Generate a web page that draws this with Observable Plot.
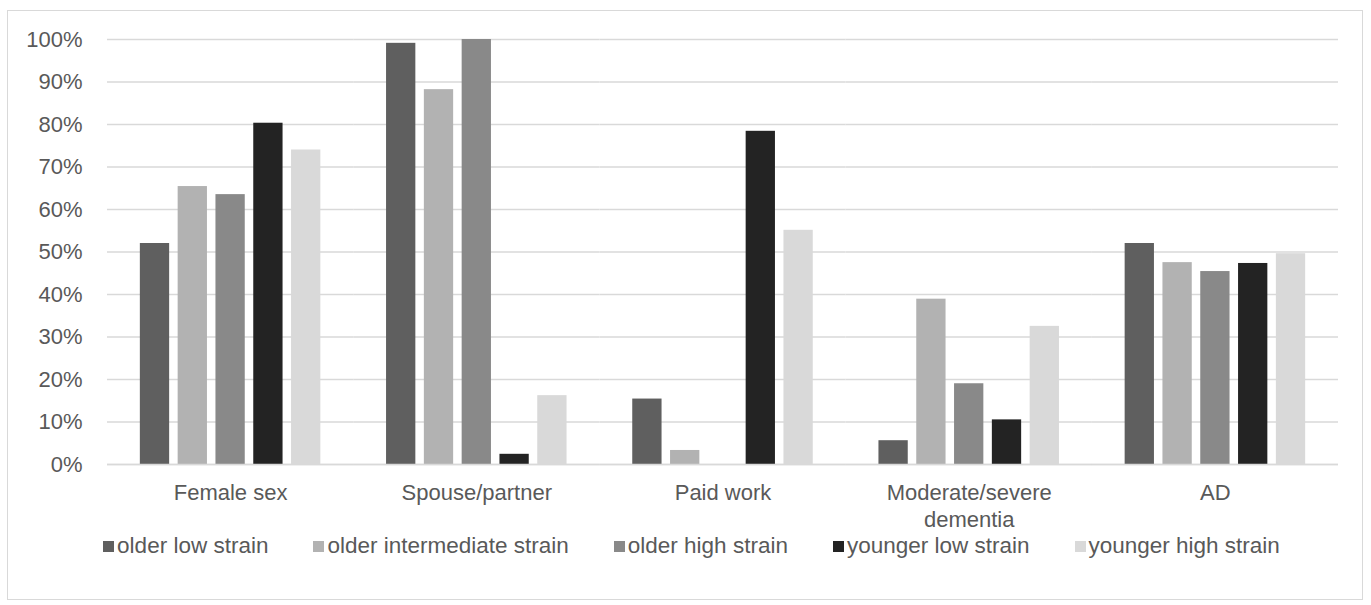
<!DOCTYPE html>
<html>
<head>
<meta charset="utf-8">
<script src="https://cdn.jsdelivr.net/npm/d3@7"></script>
<script src="https://cdn.jsdelivr.net/npm/@observablehq/plot@0.6"></script>
<style>
  html, body { margin: 0; padding: 0; background: #fff; }
  body { width: 1371px; height: 605px; position: relative; overflow: hidden;
         font-family: "Liberation Sans", Arial, sans-serif; color: #595959; }
  #frame { position: absolute; left: 7px; top: 10px; width: 1356px; height: 590px;
           border: 1.5px solid #d9d9d9; box-sizing: border-box; }
  #chart { position: absolute; left: 0; top: 0; }
  #legend { position: absolute; left: 6px; top: 535px; width: 1371px; display: flex;
            justify-content: center; gap: 45px; font-size: 22.5px; line-height: 22px; }
  #legend .item { display: flex; align-items: center; white-space: nowrap; }
  #legend .sw { width: 11px; height: 11px; margin-right: 3px; display: inline-block; }
</style>
</head>
<body>
<div id="frame"></div>
<div id="chart"></div>
<div id="legend"></div>
<script>
// Characteristics of caregivers by age group and strain level (share, 0–100%)
const categories = ["Female sex", "Spouse/partner", "Paid work", "Moderate/severe dementia", "AD"];
const series = ["older low strain", "older intermediate strain", "older high strain", "younger low strain", "younger high strain"];
const colors = ["#5f5f5f", "#b2b2b2", "#898989", "#232323", "#d9d9d9"];

const olderLow          = [52.0, 99.1, 15.4,  5.6, 52.0];
const olderIntermediate = [65.4, 88.2,  3.3, 38.9, 47.5];
const olderHigh         = [63.5, 100.0, 0.0, 19.0, 45.4];
const youngerLow        = [80.3,  2.4, 78.4, 10.5, 47.3];
const youngerHigh       = [74.0, 16.2, 55.1, 32.5, 49.6];

const yTicks = [0, 10, 20, 30, 40, 50, 60, 70, 80, 90, 100];

const seriesValues = [olderLow, olderIntermediate, olderHigh, youngerLow, youngerHigh];
const rows = [];
categories.forEach((category, i) => {
  series.forEach((s, j) => rows.push({category, series: s, value: seriesValues[j][i] / 100}));
});

const font = '"Liberation Sans", Arial, sans-serif';
const categoryLabel = c => c.replace("Moderate/severe ", "Moderate/severe\n");
const pct = d3.format(".0%");
const tickValues = yTicks.map(t => t / 100);

const chart = Plot.plot({
  width: 1371,
  height: 532,
  marginLeft: 107,
  marginRight: 33,
  marginTop: 39,
  marginBottom: 68,
  style: {fontFamily: font, fontSize: "22px", color: "#595959", background: "transparent", overflow: "visible"},
  fx: {domain: categories, padding: 0, round: false, label: null},
  x: {domain: series, paddingInner: 0.225, paddingOuter: 0.869, round: false, axis: null},
  y: {domain: [0, 1], label: null},
  color: {domain: series, range: colors},
  marks: [
    Plot.gridY(tickValues, {stroke: "#d9d9d9", strokeOpacity: 1, strokeWidth: 1.3}),
    Plot.barY(rows, {fx: "category", x: "series", y: "value", fill: "series"}),
    Plot.ruleY([0], {stroke: "#d9d9d9", strokeWidth: 1.3}),
    Plot.axisY(tickValues, {tickSize: 0, tickPadding: 25, tickFormat: pct, label: null, fontSize: 22, fill: "#595959"}),
    Plot.axisFx({anchor: "bottom", tickSize: 0, tickPadding: 17, tickFormat: categoryLabel, label: null, fontSize: 22, lineHeight: 1.2, fill: "#595959"})
  ]
});
document.getElementById("chart").appendChild(chart);

// Legend below the plot
const legend = d3.select("#legend");
series.forEach((s, j) => {
  const item = legend.append("div").attr("class", "item");
  item.append("span").attr("class", "sw").style("background", colors[j]);
  item.append("span").text(s);
});
</script>
</body>
</html>
